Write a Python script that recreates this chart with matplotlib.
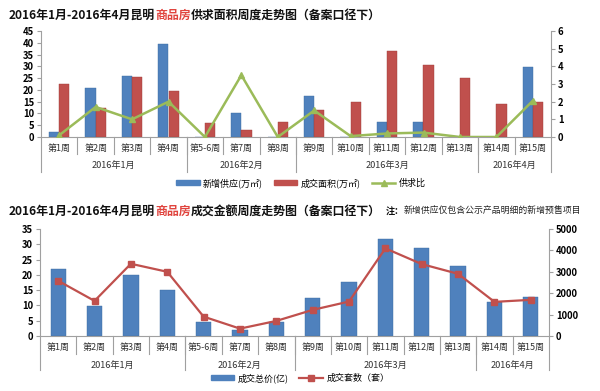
import matplotlib
matplotlib.use("Agg")
import matplotlib.pyplot as plt
from matplotlib.lines import Line2D
from matplotlib.patches import Patch

plt.rcParams['font.family'] = ['Noto Sans CJK SC', 'DejaVu Sans']

weeks = ['第1周', '第2周', '第3周', '第4周', '第5-6周', '第7周', '第8周', '第9周',
         '第10周', '第11周', '第12周', '第13周', '第14周', '第15周']
months = ['2016年1月', '2016年2月', '2016年3月', '2016年4月']
month_sizes = [4, 3, 5, 2]

# top chart: area supply / sales / ratio
new_supply = [2.1, 20.7, 26.0, 39.5, 0, 10.4, 0, 17.5, 0, 6.2, 6.3, 0, 0, 29.9]
sold_area = [22.4, 12.5, 25.5, 19.7, 5.9, 3.1, 6.3, 11.6, 14.8, 36.7, 30.5, 25.0, 13.8, 14.7]
ratio = [0.1, 1.7, 1.0, 2.0, 0, 3.5, 0, 1.5, 0.05, 0.2, 0.25, 0, 0, 2.05]

# bottom chart: deal value / units
deal_value = [21.8, 9.7, 20.0, 15.0, 4.7, 1.9, 4.6, 12.3, 17.7, 31.6, 28.8, 22.9, 11.2, 12.9]
deal_units = [2580, 1640, 3375, 3000, 905, 345, 705, 1220, 1610, 4095, 3360, 2905, 1595, 1690]

BLUE = '#4F81BD'
RED = '#C0504D'
GREEN = '#9BBB59'
AXC = '#a0a0a0'
W, H = 600, 391

fig = plt.figure(figsize=(6, 3.91), dpi=100)


def px_axes(left, top, right, bottom):
    return fig.add_axes([left / W, 1 - bottom / H, (right - left) / W, (bottom - top) / H])


def style_axes(ax, ax2):
    for a in (ax, ax2):
        for s in a.spines.values():
            s.set_visible(False)
        a.tick_params(axis='y', labelsize=6.8, length=3, color=AXC, width=0.8, pad=2)
        for lab in a.get_yticklabels():
            lab.set_fontweight('bold')
    ax.spines['left'].set_visible(True)
    ax.spines['left'].set_color(AXC)
    ax2.spines['right'].set_visible(True)
    ax2.spines['right'].set_color(AXC)
    ax.spines['bottom'].set_visible(True)
    ax.spines['bottom'].set_color(AXC)
    ax.set_xticks([])
    ax.set_xlim(-0.5, len(weeks) - 0.5)


def category_axis(ax, plot_h, week_y, month_y, short_len, long_len):
    # two level category labels with separators (offsets in pixels)
    tr = ax.get_xaxis_transform()
    for i, w in enumerate(weeks):
        ax.text(i, -week_y / plot_h, w, transform=tr, ha='center', va='center',
                fontsize=6.5, color='#333333')
    for i in range(1, len(weeks)):
        ax.plot([i - 0.5, i - 0.5], [0, -short_len / plot_h], transform=tr,
                color=AXC, lw=0.8, clip_on=False)
    start = 0
    bounds = [-0.5]
    for m, n in zip(months, month_sizes):
        ax.text(start + (n - 1) / 2, -month_y / plot_h, m, transform=tr, ha='center',
                va='center', fontsize=6.6, color='#333333')
        start += n
        bounds.append(start - 0.5)
    for b in bounds:
        ax.plot([b, b], [0, -long_len / plot_h], transform=tr,
                color=AXC, lw=0.8, clip_on=False)


def title(y, text_main, note=None):
    parts = ['2016年1月-2016年4月昆明', '商品房', text_main]
    colors = ['#111111', '#E0443E', '#111111']
    x = 9 / W
    renderer = fig.canvas.get_renderer()
    for p, c in zip(parts, colors):
        t = fig.text(x, 1 - y / H, p, fontsize=8.6, fontweight='bold', color=c,
                     ha='left', va='center')
        bb = t.get_window_extent(renderer=renderer)
        x += bb.width / fig.bbox.width
    if note:
        fig.text(386 / W, 1 - y / H, '注：', fontsize=6.6, fontweight='bold',
                 ha='left', va='center', color='#111111')
        fig.text(404 / W, 1 - y / H, note, fontsize=6.4, ha='left', va='center',
                 color='#222222')


x = list(range(len(weeks)))

# ---------- top chart ----------
ax = px_axes(41, 31, 551, 137)
ax2 = ax.twinx()
bw = 0.28
ax.bar([i - bw / 2 for i in x], new_supply, width=bw, color=BLUE, edgecolor='#3A6AA0', lw=0.3)
ax.bar([i + bw / 2 for i in x], sold_area, width=bw, color=RED, edgecolor='#9E3B38', lw=0.3)
ax2.plot(x, ratio, color=GREEN, lw=1.8, marker='^', ms=5, mfc=GREEN, mec=GREEN)
ax.set_ylim(0, 45)
ax.set_yticks(range(0, 46, 5))
ax2.set_ylim(0, 6)
ax2.set_yticks(range(0, 7))
style_axes(ax, ax2)
category_axis(ax, 106, 11, 28, 17, 35)

h1 = [Patch(facecolor=BLUE, edgecolor=BLUE), Patch(facecolor=RED, edgecolor=RED),
      Line2D([], [], color=GREEN, lw=1.8, marker='^', ms=5)]
fig.legend(h1, ['新增供应(万㎡)', '成交面积(万㎡)', '供求比'], loc='center',
           bbox_to_anchor=(301 / W, 1 - 183 / H), ncol=3, frameon=False, fontsize=6.5,
           handlelength=2.6, handleheight=0.5, columnspacing=1.2, handletextpad=0.4)

# ---------- bottom chart ----------
bx = px_axes(40, 229, 549, 336)
bx2 = bx.twinx()
bx.bar(x, deal_value, width=0.42, color=BLUE, edgecolor='#3A6AA0', lw=0.3)
bx2.plot(x, deal_units, color=RED, lw=1.6, marker='s', ms=4.5, mfc=RED, mec=RED)
bx.set_ylim(0, 35)
bx.set_yticks(range(0, 36, 5))
bx2.set_ylim(0, 5000)
bx2.set_yticks(range(0, 5001, 1000))
style_axes(bx, bx2)
category_axis(bx, 107, 11, 29, 18, 34)

h2 = [Patch(facecolor=BLUE, edgecolor=BLUE),
      Line2D([], [], color=RED, lw=1.6, marker='s', ms=4.5)]
fig.legend(h2, ['成交总价(亿)', '成交套数（套）'], loc='center',
           bbox_to_anchor=(300 / W, 1 - 378 / H), ncol=2, frameon=False, fontsize=6.5,
           handlelength=2.6, handleheight=0.5, columnspacing=1.2, handletextpad=0.4)

title(15, '供求面积周度走势图（备案口径下）')
title(211, '成交金额周度走势图（备案口径下）', '新增供应仅包含公示产品明细的新增预售项目')

fig.savefig('out.png', dpi=100)
